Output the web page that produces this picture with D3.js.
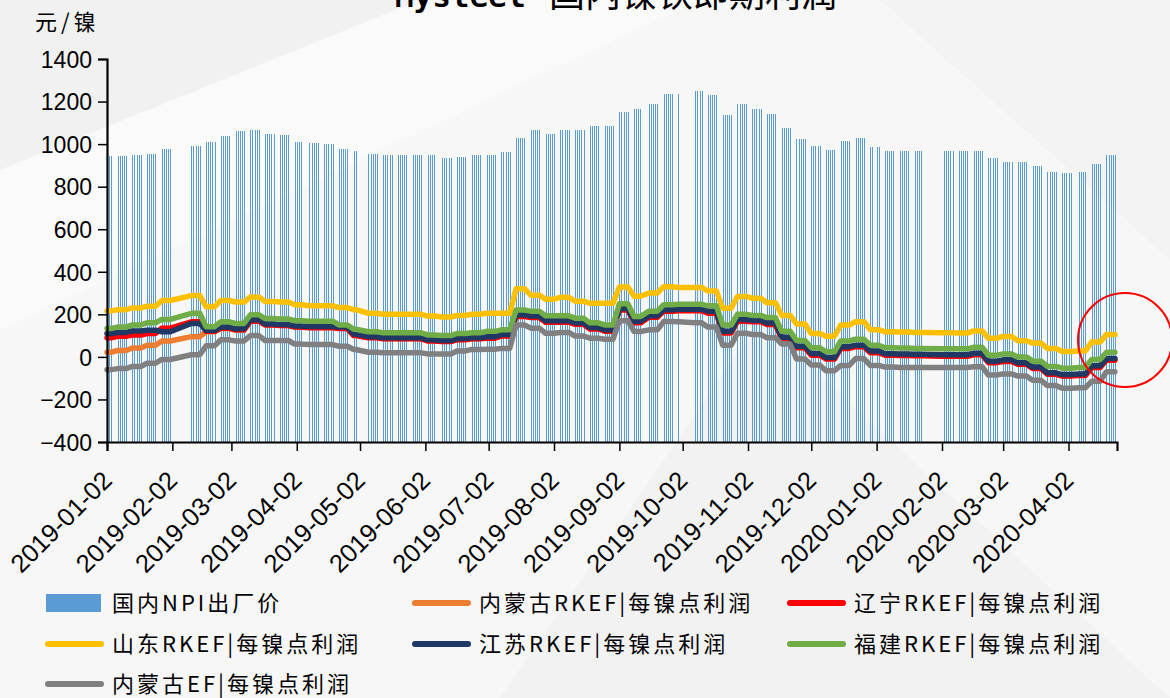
<!DOCTYPE html>
<html><head><meta charset="utf-8">
<script src="https://cdn.jsdelivr.net/npm/d3@7"></script>
<style>body{margin:0;background:#f7f7f7;} svg{display:block}</style>
</head><body><svg id="c" width="1170" height="698"></svg>
<script>
// ---- data (one value per calendar week, week 0 = week of 2018-12-31; null = no trading days) ----
const firstWeekMonday = "2018-12-31";
const startDate = "2019-01-02";
const endDate = "2020-04-24";
const holidays = ["2019-02-04","2019-02-05","2019-02-06","2019-02-07","2019-02-08","2019-04-05",
  "2019-05-01","2019-05-02","2019-05-03","2019-06-07","2019-09-13",
  "2019-10-01","2019-10-02","2019-10-03","2019-10-04","2019-10-07",
  "2020-01-01","2020-01-24","2020-01-27","2020-01-28","2020-01-29","2020-01-30","2020-01-31","2020-04-06"];

const npiPrice = [945,945,950,955,975,null,990,1008,1040,1062,
  1065,1048,1043,1010,1005,1000,978,968,955,950,
  950,950,947,937,940,948,950,964,1030,1065,
  1048,1067,1067,1085,1085,1150,1164,1189,1236,1236,
  1250,1230,1137,1189,1164,1140,1075,1025,990,970,
  1013,1029,985,968,968,968,null,968,968,966,
  935,918,918,895,870,866,870,908,949];
const nmgRKEF = [22,30,42,55,75,null,95,118,133,125,
  172,152,149,142,140,140,137,104,92,87,
  87,87,77,74,83,87,92,102,195,189,
  167,167,157,135,125,225,165,190,219,221,
  221,212,117,173,169,157,89,47,13,-6,
  45,52,25,12,11,9,null,7,7,14,
  -23,-17,-31,-51,-78,-86,-83,-45,-11];
const lnRKEF = [90,97,103,110,135,null,165,120,135,127,
  168,150,147,140,137,137,133,100,90,85,
  85,85,75,72,80,85,88,98,190,185,
  163,163,153,131,121,220,160,186,215,217,
  217,205,112,168,165,152,85,43,8,-10,
  40,48,20,8,7,5,null,3,3,10,
  -27,-22,-35,-55,-82,-90,-88,-50,-16];
const sdRKEF = [216,222,230,238,265,null,288,236,265,258,
  282,260,258,245,240,240,232,222,205,200,
  200,200,192,187,195,200,205,205,320,290,
  271,280,262,252,252,328,285,300,330,326,
  326,310,229,284,276,255,195,155,110,97,
  150,165,128,118,117,115,null,113,112,122,
  88,96,76,65,40,25,28,70,105];
const jsRKEF = [110,115,122,125,118,null,157,125,140,132,
  175,155,152,145,143,143,140,107,95,90,
  90,90,80,77,86,90,95,105,198,192,
  170,170,160,138,128,228,168,193,222,224,
  224,215,120,176,172,160,92,50,16,-3,
  48,55,28,15,14,12,null,10,10,17,
  -20,-14,-28,-48,-75,-83,-80,-42,-8];
const fjRKEF = [134,140,150,160,176,null,205,142,165,157,
  198,180,178,170,168,168,150,130,118,113,
  113,113,103,100,110,113,120,127,220,215,
  193,193,182,160,150,250,190,215,245,247,
  247,240,150,200,195,185,120,77,43,24,
  75,83,55,43,42,40,null,38,38,45,
  8,14,0,-20,-45,-53,-50,-12,22];
const nmgEF = [-60,-55,-45,-30,-12,null,10,52,80,75,
  100,77,77,60,58,58,50,35,22,19,
  19,19,14,13,28,35,36,40,150,135,
  111,115,98,88,83,170,119,127,166,165,
  160,140,55,111,105,90,60,-10,-38,-65,
  -40,-8,-40,-48,-50,-50,null,-50,-50,-46,
  -85,-80,-90,-110,-135,-147,-145,-115,-70];

const yTicks = [-400,-200,0,200,400,600,800,1000,1200,1400];
const xTickLabels = ["2019-01-02","2019-02-02","2019-03-02","2019-04-02","2019-05-02","2019-06-02",
  "2019-07-02","2019-08-02","2019-09-02","2019-10-02","2019-11-02","2019-12-02",
  "2020-01-02","2020-02-02","2020-03-02","2020-04-02"];

const lineNames = ["内蒙古RKEF|每镍点利润","辽宁RKEF|每镍点利润","山东RKEF|每镍点利润",
  "江苏RKEF|每镍点利润","福建RKEF|每镍点利润","内蒙古EF|每镍点利润"];
const lineColors = ["#ed7d31","#ff0000","#ffc000","#203864","#70ad47","#808080"];
const lineSeries = [nmgRKEF, lnRKEF, sdRKEF, jsRKEF, fjRKEF, nmgEF];
const barName = "国内NPI出厂价";
const barColor = "#5b9bd5";

// ---- chart ----
const parse = d3.timeParse("%Y-%m-%d");
const svg = d3.select("#c");

// faint background shapes
const bg = svg.append("g");
bg.append("rect").attr("width",1170).attr("height",698).attr("fill","#f7f7f7");
bg.append("polygon").attr("points","0,0 420,0 0,170").attr("fill","#f1f1f1");
bg.append("polygon").attr("points","0,170 420,0 700,0 0,330").attr("fill","#fafafa");
bg.append("polygon").attr("points","500,698 760,320 1170,698").attr("fill","#f2f2f2");
bg.append("polygon").attr("points","880,0 1170,0 1170,260").attr("fill","#f3f3f3");

const x = d3.scaleTime().domain([parse("2019-01-02"), parse("2020-04-25")]).range([107, 1117]);
const y = d3.scaleLinear().domain([-400, 1400]).range([442, 59]);

const holSet = new Set(holidays);
const fmt = d3.timeFormat("%Y-%m-%d");
const w0 = parse(firstWeekMonday);
const days = d3.timeDay.range(parse(startDate), d3.timeDay.offset(parse(endDate), 1))
  .filter(d => d.getDay() > 0 && d.getDay() < 6 && !holSet.has(fmt(d)));
const weekOf = d => d3.timeMonday.count(w0, d);

// bars
svg.append("g").attr("shape-rendering","crispEdges").selectAll("rect")
  .data(days.filter(d => npiPrice[weekOf(d)] != null))
  .join("rect")
  .attr("x", d => Math.round(x(d)))
  .attr("width", 1)
  .attr("y", d => y(npiPrice[weekOf(d)]))
  .attr("height", d => y(-400) - y(npiPrice[weekOf(d)]))
  .attr("fill", barColor);

// lines
const line = d3.line().x(d => x(d.date)).y(d => y(d.v));
lineSeries.forEach((s, i) => {
  const pts = days.map(d => ({date: d, v: s[weekOf(d)]})).filter(p => p.v != null);
  svg.append("path").datum(pts).attr("d", line)
    .attr("fill","none").attr("stroke", lineColors[i]).attr("stroke-width", 5.5)
    .attr("stroke-linejoin","round").attr("stroke-linecap","round");
});

// axes
const yAxis = svg.append("g").attr("transform","translate(107,0)")
  .call(d3.axisLeft(y).tickValues(yTicks).tickSize(9).tickPadding(6).tickFormat(d3.format("d")));
const xAxis = svg.append("g").attr("transform","translate(0,442)")
  .call(d3.axisBottom(x).tickValues(xTickLabels.map(parse)).tickSize(9).tickFormat(fmt));
[yAxis, xAxis].forEach(a => {
  a.select(".domain").attr("stroke","#000").attr("stroke-width",2.2);
  a.selectAll(".tick line").attr("stroke","#000").attr("stroke-width",1.5);
  a.selectAll("text").attr("fill","#000").attr("font-family","'Liberation Sans', Arial, sans-serif").attr("font-size",23);
});
yAxis.selectAll("text").attr("dy","0.36em");
xAxis.selectAll(".tick text")
  .attr("font-size", 25.5)
  .attr("text-anchor","end")
  .attr("dy", 0)
  .attr("y", 0)
  .attr("transform","translate(6,40) rotate(-45)");

// y unit label
svg.append("text").attr("x",35).attr("y",30).text("元/镍").attr("letter-spacing",4)
  .attr("font-family","'Noto Sans CJK SC', sans-serif").attr("font-size",22).attr("fill","#000");

// title (cut off at the top)
const t = svg.append("text").attr("y",7).attr("fill","#000");
t.append("tspan").attr("x",395).attr("font-family","'DejaVu Sans Mono', monospace").attr("font-weight","bold").attr("font-size",31).text("Mysteel");
t.append("tspan").attr("x",549).attr("font-family","'Noto Sans CJK SC', sans-serif").attr("font-size",36).text("国内镍铁即期利润");

// red annotation circle
svg.append("circle").attr("cx",1125).attr("cy",340).attr("r",47)
  .attr("fill","none").attr("stroke","#ff0000").attr("stroke-width",2);

// legend
const lg = svg.append("g").attr("font-family","'Noto Sans CJK SC', sans-serif").attr("font-size",22).attr("fill","#000");
const items = [{name: barName, color: barColor, bar: true}]
  .concat(lineNames.map((n, i) => ({name: n, color: lineColors[i], bar: false})));
const colX = [46, 413, 788];
const rowY = [603, 644, 684];
items.forEach((it, k) => {
  const cx = colX[k % 3], cy = rowY[Math.floor(k / 3)];
  if (it.bar) {
    lg.append("rect").attr("x", cx).attr("y", cy - 9).attr("width", 55).attr("height", 18).attr("fill", it.color);
  } else {
    lg.append("line").attr("x1", cx + 2).attr("x2", cx + 55).attr("y1", cy).attr("y2", cy)
      .attr("stroke", it.color).attr("stroke-width", 6).attr("stroke-linecap","round");
  }
  lg.append("text").attr("x", cx + 66).attr("y", cy).attr("dy","0.36em")
    .attr("letter-spacing", 3).text(it.name);
});
</script></body></html>
